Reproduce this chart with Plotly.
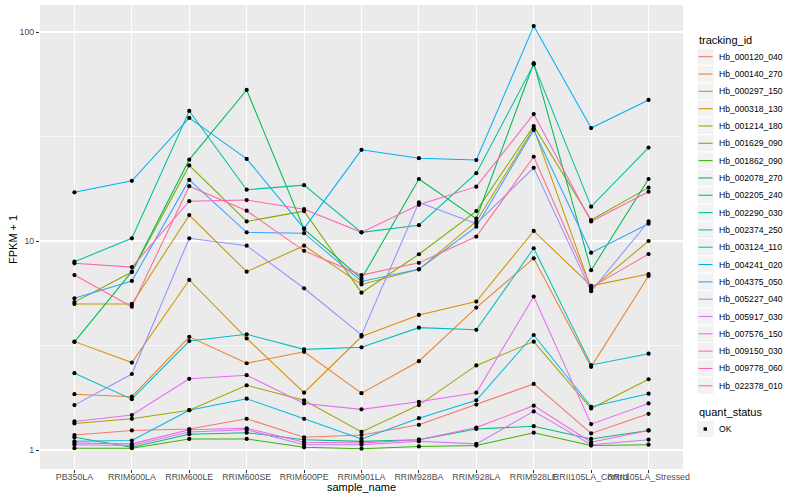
import plotly.graph_objects as go

# ---------------- data ----------------
samples = ["PB350LA", "RRIM600LA", "RRIM600LE", "RRIM600SE", "RRIM600PE",
           "RRIM901LA", "RRIM928BA", "RRIM928LA", "RRIM928LE",
           "RRII105LA_Control", "RRII105LA_Stressed"]

tracking_ids = ["Hb_000120_040", "Hb_000140_270", "Hb_000297_150", "Hb_000318_130",
                "Hb_001214_180", "Hb_001629_090", "Hb_001862_090", "Hb_002078_270",
                "Hb_002205_240", "Hb_002290_030", "Hb_002374_250", "Hb_003124_110",
                "Hb_004241_020", "Hb_004375_050", "Hb_005227_040", "Hb_005917_030",
                "Hb_007576_150", "Hb_009150_030", "Hb_009778_060", "Hb_022378_010"]

colors = ["#F8766D", "#EA8331", "#D89000", "#C09B00", "#A3A500", "#7CAE00", "#39B600",
          "#00BB4E", "#00BF7D", "#00C1A3", "#00BFC4", "#00BAE0", "#00B0F6", "#35A2FF",
          "#9590FF", "#C77CFF", "#E76BF3", "#FA62DB", "#FF62BC", "#FF6C91"]

# FPKM + 1 per sample (same order as samples)
hb_000120_040 = [1.18, 1.24, 1.26, 1.41, 1.15, 1.18, 1.32, 1.65, 2.07, 1.20, 1.49]
hb_000140_270 = [1.85, 1.80, 3.48, 2.60, 2.95, 1.87, 2.66, 4.80, 8.26, 2.50, 6.80]
hb_000297_150 = [3.30, 2.62, 6.51, 3.42, 1.88, 3.49, 4.43, 5.13, 11.17, 6.10, 6.95]
hb_000318_130 = [5.00, 5.00, 13.3, 7.13, 9.50, 6.20, 7.32, 12.4, 34.6, 5.90, 10.0]
hb_001214_180 = [1.34, 1.41, 1.55, 2.04, 1.73, 1.22, 1.64, 2.54, 3.30, 1.58, 2.18]
hb_001629_090 = [5.10, 7.10, 23.0, 12.4, 13.9, 5.66, 8.64, 13.9, 35.5, 12.6, 18.0]
hb_001862_090 = [1.02, 1.02, 1.13, 1.13, 1.03, 1.015, 1.04, 1.05, 1.21, 1.05, 1.06]
hb_002078_270 = [3.29, 7.13, 24.5, 52.8, 11.4, 6.60, 19.8, 12.8, 70.9, 7.25, 19.8]
hb_002205_240 = [1.15, 1.03, 1.19, 1.21, 1.12, 1.10, 1.12, 1.26, 1.30, 1.13, 1.24]
hb_002290_030 = [7.96, 10.3, 41.9, 17.6, 18.5, 11.0, 11.9, 21.1, 70.0, 14.6, 28.0]
hb_002374_250 = [2.33, 1.75, 3.32, 3.58, 3.03, 3.10, 3.85, 3.76, 9.23, 2.55, 2.89]
hb_003124_110 = [1.10, 1.11, 1.55, 1.76, 1.41, 1.13, 1.42, 1.73, 3.55, 1.61, 1.86]
hb_004241_020 = [17.1, 19.4, 38.8, 24.7, 11.5, 27.3, 24.9, 24.4, 106.7, 34.7, 47.3]
hb_004375_050 = [5.32, 6.44, 19.6, 11.0, 10.9, 6.40, 7.32, 11.7, 34.0, 8.79, 12.1]
hb_005227_040 = [1.64, 2.31, 10.3, 9.50, 5.94, 3.55, 15.3, 12.1, 22.4, 5.75, 12.4]
hb_005917_030 = [1.06, 1.05, 1.22, 1.25, 1.06, 1.06, 1.10, 1.07, 1.53, 1.06, 1.12]
hb_007576_150 = [1.37, 1.47, 2.19, 2.28, 1.67, 1.565, 1.70, 1.88, 5.42, 1.33, 1.67]
hb_009150_030 = [1.08, 1.07, 1.25, 1.27, 1.09, 1.08, 1.12, 1.28, 1.63, 1.09, 1.24]
hb_009778_060 = [7.82, 7.50, 15.5, 15.7, 14.2, 11.0, 14.9, 18.2, 40.5, 12.4, 17.2]
hb_022378_010 = [6.87, 4.85, 18.3, 13.96, 8.97, 6.87, 7.86, 10.5, 25.3, 6.00, 8.66]

series_values = [hb_000120_040, hb_000140_270, hb_000297_150, hb_000318_130,
                 hb_001214_180, hb_001629_090, hb_001862_090, hb_002078_270,
                 hb_002205_240, hb_002290_030, hb_002374_250, hb_003124_110,
                 hb_004241_020, hb_004375_050, hb_005227_040, hb_005917_030,
                 hb_007576_150, hb_009150_030, hb_009778_060, hb_022378_010]

quant_status = ["OK"]
y_tick_vals = [1, 10, 100]
y_tick_text = ["1", "10", "100"]
y_minor_vals = [3.1623, 31.623]

# ---------------- figure ----------------
W, H = 800, 500
ML, MR, MT, MB = 40, 117, 5, 31
PW, PH = W - ML - MR, H - MT - MB
FONT = "Liberation Sans, Arial, sans-serif"

fig = go.Figure()

for name, col, vals in zip(tracking_ids, colors, series_values):
    fig.add_trace(go.Scatter(x=samples, y=vals, mode="lines", name=name,
                             line=dict(color=col, width=1.05), showlegend=False,
                             hoverinfo="skip"))

all_x, all_y = [], []
for vals in series_values:
    all_x += samples
    all_y += vals
fig.add_trace(go.Scatter(x=all_x, y=all_y, mode="markers", showlegend=False,
                         marker=dict(color="black", size=4.2, symbol="circle",
                                     line=dict(width=0)),
                         hoverinfo="skip"))

fig.update_layout(
    width=W, height=H,
    margin=dict(l=ML, r=MR, t=MT, b=MB, pad=0),
    paper_bgcolor="white", plot_bgcolor="#EBEBEB",
    font=dict(family=FONT, size=9, color="#4D4D4D"),
    showlegend=False,
)
fig.update_xaxes(type="category", categoryorder="array", categoryarray=samples,
                 range=[-0.6, len(samples) - 0.4],
                 showgrid=True, gridcolor="white", gridwidth=1.1,
                 zeroline=False, showline=False, automargin=False,
                 ticks="outside", ticklen=3, tickwidth=1, tickcolor="#333333",
                 tickangle=0, ticklabelstandoff=-4,
                 tickfont=dict(family=FONT, size=8.8, color="#4D4D4D"),
                 fixedrange=True)
fig.update_yaxes(type="log", range=[-19 / 209, (450 - 5) / 209],
                 tickvals=y_tick_vals, ticktext=y_tick_text,
                 showgrid=True, gridcolor="white", gridwidth=1.1,
                 zeroline=False, showline=False, automargin=False,
                 ticks="outside", ticklen=3, tickwidth=1, tickcolor="#333333",
                 tickfont=dict(family=FONT, size=8.8, color="#4D4D4D"),
                 minor=dict(tickvals=y_minor_vals, showgrid=True, gridcolor="white",
                            gridwidth=0.55, ticks=""),
                 fixedrange=True)


def px(xp):
    return (xp - ML) / PW


def py(yp):
    return (H - MB - yp) / PH


annotations = [
    dict(text="sample_name", x=px(361), y=py(487), xref="paper", yref="paper",
         showarrow=False, font=dict(family=FONT, size=11, color="black"),
         xanchor="center", yanchor="middle"),
    dict(text="FPKM + 1", x=px(13), y=py(240), xref="paper", yref="paper",
         showarrow=False, textangle=-90, font=dict(family=FONT, size=11, color="black"),
         xanchor="center", yanchor="middle"),
    dict(text="tracking_id", x=px(697), y=py(40), xref="paper", yref="paper",
         showarrow=False, font=dict(family=FONT, size=11, color="black"),
         xanchor="left", yanchor="middle"),
    dict(text="quant_status", x=px(697), y=py(412), xref="paper", yref="paper",
         showarrow=False, font=dict(family=FONT, size=11, color="black"),
         xanchor="left", yanchor="middle"),
]
shapes = []

ROW0, PITCH = 56.7, 17.32
for i, (name, col) in enumerate(zip(tracking_ids, colors)):
    yc = ROW0 + i * PITCH
    shapes.append(dict(type="rect", xref="paper", yref="paper",
                       x0=px(697), x1=px(714), y0=py(yc - 8.6), y1=py(yc + 8.6),
                       fillcolor="#F2F2F2", line=dict(color="white", width=1), layer="above"))
    shapes.append(dict(type="line", xref="paper", yref="paper",
                       x0=px(698.5), x1=px(712.5), y0=py(yc), y1=py(yc),
                       line=dict(color=col, width=1.1), layer="above"))
    annotations.append(dict(text=name, x=px(716.5), y=py(yc), xref="paper", yref="paper",
                            showarrow=False, font=dict(family=FONT, size=8.6, color="black"),
                            xanchor="left", yanchor="middle"))

for j, qs in enumerate(quant_status):
    yc = 429 + j * PITCH
    shapes.append(dict(type="rect", xref="paper", yref="paper",
                       x0=px(697), x1=px(714), y0=py(yc - 8.6), y1=py(yc + 8.6),
                       fillcolor="#F2F2F2", line=dict(color="white", width=1), layer="above"))
    shapes.append(dict(type="rect", xref="paper", yref="paper",
                       x0=px(703.6), x1=px(707.0), y0=py(yc - 1.7), y1=py(yc + 1.7),
                       fillcolor="black", line=dict(width=0), layer="above"))
    annotations.append(dict(text=qs, x=px(716.5), y=py(yc), xref="paper", yref="paper",
                            showarrow=False, font=dict(family=FONT, size=8.6, color="black"),
                            xanchor="left", yanchor="middle"))

fig.update_layout(annotations=annotations, shapes=shapes)
fig.write_html("out.html",
               config={"displayModeBar": False, "staticPlot": True},
               post_script="document.body.style.margin='0';document.body.style.overflow='hidden';")
